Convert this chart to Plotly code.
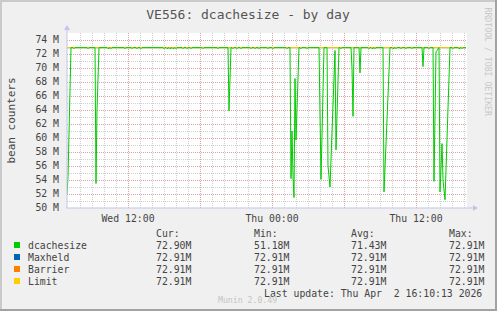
import plotly.graph_objects as go
import pandas as pd

# ---------------- data ----------------
T_START = pd.Timestamp("2026-04-01 06:55")   # first 5-minute sample
T_END = pd.Timestamp("2026-04-02 16:15")
STEP_MIN = 5

# dcachesize breakpoints: (sample number, value in M)
DCACHE_POINTS = [
    (0, 52.0), (1, 54.5), (4, 72.91),
    (6, 72.91), (7, 72.76), (8, 72.91),
    (20, 72.91), (21, 72.76), (22, 72.91),
    (28, 72.91), (29, 53.5), (30, 64.0), (32, 72.91),
    (40, 72.91), (41, 72.76), (42, 72.91),
    (43, 72.91), (44, 72.76), (45, 72.91),
    (57, 72.91), (58, 72.76), (59, 72.91),
    (64, 72.91), (65, 72.76), (66, 72.91),
    (69, 72.91), (70, 72.76), (71, 72.91),
    (73, 72.91), (74, 72.76), (75, 72.91),
    (96, 72.91), (97, 72.76), (98, 72.91),
    (99, 72.91), (100, 72.76), (101, 72.91),
    (102, 72.91), (103, 72.76), (104, 72.91),
    (105, 72.91), (106, 72.76), (107, 72.91),
    (108, 72.91), (109, 72.76), (110, 72.91),
    (115, 72.91), (116, 72.76), (117, 72.91),
    (119, 72.91), (120, 72.76), (121, 72.91),
    (123, 72.91), (124, 72.76), (125, 72.91),
    (135, 72.91), (136, 72.76), (137, 72.91),
    (150, 72.91), (151, 72.76), (152, 72.91),
    (161, 72.91), (162, 63.9), (163, 70.5), (164, 72.91),
    (165, 72.91), (166, 72.76), (167, 72.91),
    (169, 72.91), (170, 72.76), (171, 72.91),
    (173, 72.91), (174, 72.76), (175, 72.91),
    (183, 72.91), (184, 72.76), (185, 72.91),
    (187, 72.91), (188, 72.76), (189, 72.91),
    (191, 72.91), (192, 72.76), (193, 72.91),
    (200, 72.91), (201, 72.76), (202, 72.91),
    (205, 72.91), (206, 72.76), (207, 72.91),
    (219, 72.91), (220, 72.76), (221, 72.91),
    (223, 72.91), (224, 54.2), (225, 61.0), (226, 54.5), (227, 51.5),
    (228, 68.5), (229, 59.7), (232, 72.91),
    (233, 72.91), (234, 72.76), (235, 72.91),
    (239, 72.91), (240, 72.76), (241, 72.91),
    (252, 72.91), (254, 54.1), (257, 72.91),
    (260, 72.91), (261, 56.0), (263, 53.0), (266, 66.4), (268, 72.5),
    (269, 58.3), (272, 72.91),
    (273, 72.91), (274, 72.76), (275, 72.91),
    (284, 72.91), (285, 70.0), (286, 63.1), (287, 72.91),
    (292, 72.91), (293, 69.3), (294, 72.91),
    (301, 72.91), (302, 72.76), (303, 72.91),
    (304, 72.91), (305, 72.76), (306, 72.91),
    (307, 72.91), (308, 72.76), (309, 72.91),
    (316, 72.91), (317, 52.3), (323, 72.91),
    (325, 72.91), (326, 72.76), (327, 72.91),
    (328, 72.91), (329, 72.76), (330, 72.91),
    (333, 72.91), (334, 72.76), (335, 72.91),
    (338, 72.91), (339, 72.76), (340, 72.91),
    (344, 72.91), (345, 72.76), (346, 72.91),
    (355, 72.91), (356, 70.2), (357, 72.91),
    (361, 72.91), (362, 72.76), (363, 72.91),
    (366, 72.91), (367, 53.8), (369, 72.3), (372, 72.91), (373, 52.3),
    (375, 59.2), (376, 54.0), (378, 51.18), (383, 72.91),
    (385, 72.91), (386, 72.76), (387, 72.91),
    (391, 72.91), (392, 72.76), (393, 72.91),
    (394, 72.91), (395, 72.76), (396, 72.91),
    (399, 72.90),
]
DCACHE_SAMPLE = [p[0] for p in DCACHE_POINTS]
DCACHE_VALUE = [p[1] for p in DCACHE_POINTS]

LIMIT_SAMPLE = [0, 399]
MAXHELD = [72.91, 72.91]
BARRIER = [72.91, 72.91]
LIMIT = [72.91, 72.91]

SERIES_NAMES = ["dcachesize", "Maxheld", "Barrier", "Limit"]
SERIES_COLORS = ["#00CC00", "#0066B3", "#FF8000", "#FFCC00"]
CUR = ["72.90M", "72.91M", "72.91M", "72.91M"]
MIN = ["51.18M", "72.91M", "72.91M", "72.91M"]
AVG = ["71.43M", "72.91M", "72.91M", "72.91M"]
MAX = ["72.91M", "72.91M", "72.91M", "72.91M"]

Y_TICKS = list(range(50, 75, 2))
Y_TICK_TEXT = [f"{v} M" for v in Y_TICKS]
X_TICKS = ["2026-04-01 12:00", "2026-04-01 18:00", "2026-04-02 00:00",
           "2026-04-02 06:00", "2026-04-02 12:00"]
X_TICK_TEXT = ["Wed 12:00", "", "Thu 00:00", "", "Thu 12:00"]

TITLE = "VE556: dcachesize - by day"
Y_TITLE = "bean counters"
LAST_UPDATE = "Last update: Thu Apr  2 16:10:13 2026"


def to_time(samples):
    return [T_START + pd.Timedelta(minutes=STEP_MIN * s) for s in samples]


# ---------------- layout geometry (pixels) ----------------
W, H = 497, 311
L, R, T, B = 67, 467, 33, 208
PW, PH = R - L, B - T


def px(x):
    return (x - L) / PW


def py(y):
    return (B - y) / PH


FONT = "DejaVu Sans Mono"
TXT = "#444444"

fig = go.Figure()
for name, vals, col in [("Maxheld", MAXHELD, SERIES_COLORS[1]),
                        ("Barrier", BARRIER, SERIES_COLORS[2]),
                        ("Limit", LIMIT, SERIES_COLORS[3])]:
    fig.add_trace(go.Scatter(x=to_time(LIMIT_SAMPLE), y=vals, mode="lines",
                             line=dict(color=col, width=1), name=name,
                             showlegend=False, hoverinfo="skip"))
fig.add_trace(go.Scatter(x=to_time(DCACHE_SAMPLE), y=DCACHE_VALUE, mode="lines",
                         line=dict(color=SERIES_COLORS[0], width=1),
                         name="dcachesize", showlegend=False))

MAJOR = "rgba(230,120,120,0.55)"
MINOR = "rgba(150,150,150,0.45)"
AXIS = "#C4C4EC"

fig.update_layout(
    width=W, height=H,
    margin=dict(l=L, r=W - R, t=T, b=H - B, pad=0),
    paper_bgcolor="#F0F0F0", plot_bgcolor="#FFFFFF",
    font=dict(family=FONT, size=9.8, color=TXT),
    title=dict(text=TITLE, x=248 / W, xref="container", xanchor="center",
               y=1 - 14 / H, yref="container", yanchor="middle",
               font=dict(family=FONT, size=13, color="#555555")),
    showlegend=False,
)
fig.update_xaxes(
    type="date", range=[T_START, T_END],
    tickmode="array", tickvals=X_TICKS, ticktext=X_TICK_TEXT,
    showgrid=True, gridcolor=MAJOR, griddash="1px,1px", gridwidth=1,
    minor=dict(tickmode="linear", tick0="2026-04-01 00:00", dtick=3600000,
               showgrid=True, gridcolor=MINOR, griddash="1px,1px", gridwidth=1),
    showline=False, zeroline=False, ticks="", ticklabelstandoff=3,
    tickfont=dict(family=FONT, size=9.8, color=TXT),
)
fig.update_yaxes(
    range=[50, 75], tickmode="array", tickvals=Y_TICKS, ticktext=Y_TICK_TEXT,
    showgrid=True, gridcolor=MAJOR, griddash="1px,1px", gridwidth=1,
    minor=dict(tickmode="linear", tick0=0, dtick=1, showgrid=True,
               gridcolor=MINOR, griddash="1px,1px", gridwidth=1),
    showline=False, zeroline=False, ticks="", ticklabelstandoff=7,
    tickfont=dict(family=FONT, size=9.8, color=TXT),
)

shapes = []
# axis lines with arrow heads
shapes.append(dict(type="line", xref="paper", yref="paper", x0=px(L - 1), x1=px(474),
                   y0=0, y1=0, line=dict(color=AXIS, width=1)))
shapes.append(dict(type="line", xref="paper", yref="paper", x0=0, x1=0,
                   y0=0, y1=py(27), line=dict(color=AXIS, width=1)))
shapes.append(dict(type="path", xref="paper", yref="paper",
                   path=f"M {px(473)},{py(205)} L {px(478)},{py(208)} L {px(473)},{py(211)} Z",
                   fillcolor=AXIS, line=dict(width=0)))
shapes.append(dict(type="path", xref="paper", yref="paper",
                   path=f"M {px(64)},{py(30)} L {px(67)},{py(25)} L {px(70)},{py(30)} Z",
                   fillcolor=AXIS, line=dict(width=0)))
# frame
shapes.append(dict(type="rect", xref="paper", yref="paper", x0=px(0), x1=px(W),
                   y0=py(0), y1=py(2), fillcolor="#CACACA", line=dict(width=0)))
shapes.append(dict(type="rect", xref="paper", yref="paper", x0=px(0), x1=px(2),
                   y0=py(0), y1=py(H), fillcolor="#CACACA", line=dict(width=0)))
shapes.append(dict(type="rect", xref="paper", yref="paper", x0=px(0), x1=px(W),
                   y0=py(H - 2), y1=py(H), fillcolor="#A2A2A2", line=dict(width=0)))
shapes.append(dict(type="rect", xref="paper", yref="paper", x0=px(W - 2), x1=px(W),
                   y0=py(0), y1=py(H), fillcolor="#A2A2A2", line=dict(width=0)))

ROW_Y = [245, 257, 269, 281]
COL_X = [154, 252, 349, 447]
ann = []
for cx, head in zip(COL_X, ["Cur:", "Min:", "Avg:", "Max:"]):
    ann.append(dict(x=px(cx), y=py(233), text=head))
for i, name in enumerate(SERIES_NAMES):
    yc = ROW_Y[i]
    shapes.append(dict(type="rect", xref="paper", yref="paper",
                       x0=px(14), x1=px(20), y0=py(yc - 3), y1=py(yc + 3),
                       fillcolor=SERIES_COLORS[i], line=dict(width=0)))
    ann.append(dict(x=px(26), y=py(yc), text=name))
    for cx, col in zip(COL_X, [CUR, MIN, AVG, MAX]):
        ann.append(dict(x=px(cx), y=py(yc), text=col[i]))
annotations = [dict(a, xref="paper", yref="paper", xanchor="left", yanchor="middle",
                    showarrow=False, font=dict(family=FONT, size=9.8, color=TXT))
               for a in ann]
annotations.append(dict(x=px(483.5), y=py(293), xref="paper", yref="paper",
                        xanchor="right", yanchor="middle", showarrow=False,
                        text=LAST_UPDATE.replace("  ", "&nbsp; "),
                        font=dict(family=FONT, size=9.8, color=TXT)))
annotations.append(dict(x=px(247), y=py(300), xref="paper", yref="paper",
                        xanchor="center", yanchor="middle", showarrow=False,
                        text="Munin 2.0.49",
                        font=dict(family=FONT, size=8.2, color="#C4C4C4")))
annotations.append(dict(x=px(11), y=0.5, xref="paper", yref="paper",
                        xanchor="center", yanchor="middle", showarrow=False,
                        text=Y_TITLE, textangle=-90,
                        font=dict(family=FONT, size=11, color=TXT)))
annotations.append(dict(x=px(488), y=py(5), xref="paper", yref="paper",
                        xanchor="center", yanchor="top", showarrow=False,
                        text="RRDTOOL / TOBI OETIKER", textangle=90,
                        font=dict(family=FONT, size=8.2, color="#C8C8C8")))

fig.update_layout(shapes=shapes, annotations=annotations)
fig.write_html("out.html")
